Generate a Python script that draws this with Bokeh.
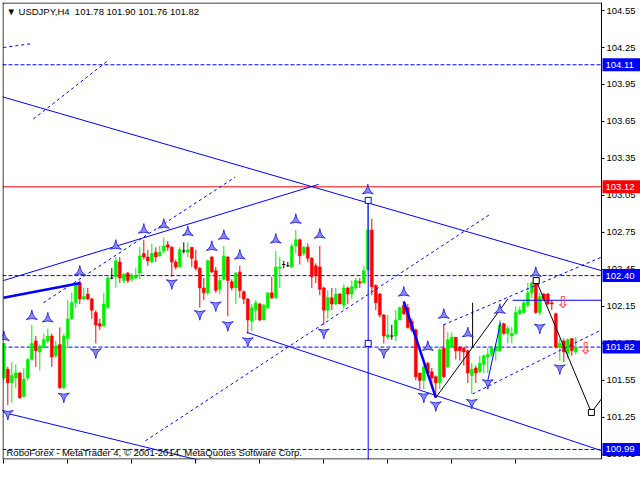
import math
from bokeh.plotting import figure
from bokeh.models import Range1d, FixedTicker, Label
from bokeh.embed import file_html
from bokeh.resources import INLINE
from bokeh.core.properties import value

# ---------------- data (USDJPY H4, bar index 0 = 11 Apr 2014) ----------------
opens = [101.57,101.64,101.53,101.57,101.61,101.42,101.57,101.72,101.87,101.78,
         101.82,101.87,101.91,101.75,101.84,101.49,101.89,102.05,102.18,102.34,
         102.21,102.25,102.21,102.10,102.01,101.99,102.14,102.38,102.39,102.51,
         102.36,102.42,102.37,102.38,102.42,102.58,102.55,102.51,102.59,102.56,
         102.60,102.65,102.63,102.51,102.47,102.60,102.59,102.63,102.52,102.46,
         102.30,102.26,102.55,102.44,102.29,102.37,102.55,102.35,102.30,102.43,
         102.27,102.21,102.03,102.12,102.17,102.04,102.14,102.26,102.22,102.46,
         102.49,102.48,102.47,102.64,102.69,102.58,102.63,102.54,102.48,102.47,
         102.30,102.12,102.22,102.17,102.25,102.16,102.30,102.25,102.30,102.35,
         102.34,102.45,102.77,102.32,102.25,102.08,101.90,101.91,101.91,102.04,
         102.16,102.14,102.03,101.96,101.61,101.55,101.69,101.62,101.58,101.53,
         101.81,101.66,101.82,101.90,101.82,101.81,101.79,101.59,101.65,101.62,
         101.68,101.74,101.76,101.79,101.79,102.01,101.93,101.91,101.93,102.09,
         102.10,102.16,102.26,102.34,102.10,102.25,102.25,102.18,102.09,101.82,
         101.87,101.77,101.89,101.78]
highs = [101.85,101.66,101.70,101.68,101.62,101.65,101.73,102.00,101.91,101.84,
         101.93,101.97,101.93,101.87,101.98,101.93,102.20,102.26,102.34,102.36,
         102.30,102.30,102.22,102.12,102.05,102.26,102.40,102.46,102.55,102.55,
         102.42,102.43,102.42,102.46,102.63,102.69,102.61,102.66,102.63,102.64,
         102.71,102.68,102.64,102.53,102.63,102.67,102.67,102.63,102.61,102.47,
         102.38,102.53,102.56,102.47,102.39,102.64,102.56,102.37,102.43,102.48,
         102.28,102.22,102.17,102.20,102.18,102.17,102.26,102.39,102.60,102.55,
         102.52,102.51,102.66,102.77,102.70,102.64,102.66,102.55,102.50,102.64,
         102.31,102.28,102.30,102.30,102.26,102.33,102.31,102.36,102.38,102.38,
         102.48,103.01,102.86,102.33,102.26,102.09,102.08,102.00,102.12,102.15,
         102.19,102.17,102.05,101.97,101.61,101.68,101.70,101.65,101.59,101.82,
         102.00,101.94,101.94,101.90,101.83,101.82,101.80,101.69,101.67,101.75,
         101.76,101.81,101.83,101.85,102.04,102.02,101.99,101.98,102.15,102.15,
         102.20,102.34,102.35,102.37,102.26,102.26,102.26,102.20,102.10,101.89,
         101.89,101.89,101.89,101.90]
lows = [101.55,101.35,101.37,101.49,101.40,101.41,101.55,101.71,101.66,101.63,
        101.81,101.85,101.66,101.73,101.48,101.48,101.81,102.04,102.14,102.17,
        102.20,102.20,102.05,101.85,101.96,101.99,102.13,102.37,102.30,102.34,
        102.34,102.34,102.35,102.37,102.37,102.53,102.48,102.50,102.51,102.55,
        102.58,102.60,102.39,102.45,102.47,102.58,102.55,102.47,102.44,102.14,
        102.20,102.24,102.42,102.26,102.25,102.36,102.07,102.28,102.17,102.22,
        102.17,101.93,101.95,102.04,102.03,102.04,102.13,102.21,102.21,102.30,
        102.46,102.47,102.46,102.58,102.49,102.56,102.51,102.30,102.34,102.24,
        102.00,102.05,102.12,102.16,102.17,102.13,102.17,102.21,102.28,102.30,
        102.34,102.44,102.24,102.12,102.06,101.85,101.88,101.88,101.87,102.04,
        102.08,101.97,101.94,101.55,101.48,101.48,101.60,101.49,101.41,101.48,
        101.57,101.65,101.81,101.72,101.71,101.67,101.53,101.44,101.53,101.61,
        101.61,101.61,101.74,101.71,101.78,101.92,101.85,101.85,101.92,102.08,
        102.09,102.14,102.22,102.09,102.08,102.20,102.16,102.12,101.81,101.71,
        101.70,101.73,101.75,101.76]
closes = [101.85,101.53,101.59,101.61,101.41,101.56,101.72,101.85,101.79,101.83,
          101.88,101.91,101.74,101.83,101.49,101.91,102.05,102.18,102.34,102.21,
          102.23,102.21,102.12,102.00,101.99,102.17,102.38,102.38,102.52,102.38,
          102.41,102.36,102.40,102.40,102.56,102.55,102.52,102.58,102.55,102.59,
          102.64,102.63,102.51,102.47,102.61,102.60,102.61,102.54,102.46,102.30,
          102.26,102.52,102.43,102.28,102.36,102.56,102.36,102.30,102.42,102.28,
          102.21,102.04,102.14,102.18,102.04,102.16,102.26,102.22,102.47,102.47,
          102.49,102.48,102.64,102.69,102.56,102.63,102.54,102.39,102.40,102.29,
          102.12,102.22,102.17,102.25,102.17,102.30,102.25,102.31,102.36,102.34,
          102.44,102.77,102.31,102.18,102.08,101.91,101.92,101.91,102.04,102.14,
          102.09,101.98,101.96,101.58,101.55,101.66,101.61,101.57,101.53,101.80,
          101.58,101.88,101.90,101.79,101.79,101.78,101.61,101.64,101.61,101.69,
          101.75,101.76,101.81,101.81,102.00,101.93,101.97,101.93,102.10,102.12,
          102.18,102.26,102.34,102.10,102.23,102.21,102.17,102.17,101.82,101.85,
          101.78,101.88,101.79,101.82]

time_ticks = [0, 16, 32, 48, 64, 80, 96, 112, 128]
time_labels = ["11 Apr 2014", "16 Apr 00:00", "18 Apr 16:00", "23 Apr 08:00",
               "28 Apr 00:00", "30 Apr 16:00", "5 May 08:00", "8 May 00:00", "12 May 16:00"]
price_ticks = [100.95, 101.25, 101.55, 101.85, 102.15, 102.45, 102.75, 103.05,
               103.35, 103.65, 103.95, 104.25, 104.55]

# horizontal levels
blue_levels = [104.11, 102.40, 101.82, 100.99]
red_level = 103.12
short_level = [(127.2, 149.42, 102.20)]

# fractal arrows (bar index, price)
frac_up_x = [0, 7, 11, 19, 28, 35, 40, 46, 52, 55, 59, 68, 73, 79, 91, 100, 106, 110, 116, 124, 133]
frac_up_y = [101.90, 102.07, 102.05, 102.43, 102.64, 102.77, 102.81, 102.75, 102.63, 102.72,
             102.56, 102.69, 102.85, 102.73, 103.09, 102.26, 101.82, 102.08, 101.93, 102.12, 102.42]
frac_dn_x = [1, 15, 23, 42, 49, 53, 56, 61, 80, 95, 105, 108, 117, 121, 134, 139]
frac_dn_y = [101.28, 101.42, 101.78, 102.34, 102.09, 102.16, 102.00, 101.87, 101.94, 101.78,
             101.42, 101.35, 101.37, 101.53, 101.98, 101.65]

# solid blue trend lines (x0, y0, x1, y1)
trend_x0 = [-0.33, -0.08, 60.7, -0.08, 91.1, 121.0]
trend_y0 = [103.85, 102.36, 101.94, 101.29, 103.01, 101.55]
trend_x1 = [149.42, 78.7, 149.42, 49.2, 91.1, 124.2]
trend_y1 = [102.44, 103.14, 100.98, 100.90, 100.90, 102.02]
thick_x0 = [-0.08, 100.0]
thick_y0 = [102.22, 102.19]
thick_x1 = [19.2, 108.0]
thick_y1 = [102.34, 101.41]
# dashed channel lines
chan_x0 = [-0.1, 7.4, 9.9, 35.4, 109.9, 117.2]
chan_y0 = [104.25, 103.67, 102.18, 101.06, 102.00, 101.44]
chan_x1 = [6.7, 25.9, 57.9, 121.7, 149.42, 149.42]
chan_y1 = [104.28, 104.14, 103.20, 102.90, 102.55, 101.96]
# black forecast zigzag
zig_x0 = [108.0, 117.2, 133.1, 146.9]
zig_y0 = [101.41, 102.18, 102.36, 101.29]
zig_x1 = [126.0, 117.2, 146.9, 149.42]
zig_y1 = [102.21, 101.82, 101.29, 101.40]
black_sq_x = [133.1, 146.9]
black_sq_y = [102.36, 101.29]
blue_sq_x = [91.1, 91.1]
blue_sq_y = [103.01, 101.85]
red_arrow_x = [139.7, 145.4]
red_arrow_y = [102.18, 101.81]

price_boxes = [104.11, 103.12, 102.40, 101.82, 100.99]
price_box_colors = ["#0000ff", "#ff0000", "#0000ff", "#0000ff", "#0000ff"]

title_text = "\u25BC USDJPY,H4\u00a0\u00a0101.78 101.90 101.76 101.82"
footer_text = "RoboForex - MetaTrader 4, \u00a9 2001-2014, MetaQuotes Software Corp."

# ---------------- figure geometry ----------------
X0, X1, XR = -0.325, 149.425, 159.175      # chart area ends at X1, price scale to XR
Y0, Y1 = 100.9085, 104.615
PXX = 0.25            # bars per pixel
PXY = 1 / 123.3       # price per pixel
FONT = "Liberation Sans"

p = figure(width=640, height=480, x_range=Range1d(X0, XR), y_range=Range1d(Y0, Y1),
           y_axis_location=None, output_backend="svg", toolbar_location=None,
           min_border_left=2, min_border_top=2, min_border_right=0, min_border_bottom=21)
p.background_fill_color = "white"
p.border_fill_color = "white"
p.grid.visible = False
p.outline_line_color = None

xa = p.xaxis[0]
xa.ticker = FixedTicker(ticks=time_ticks)
xa.major_tick_in = 0
xa.major_tick_out = 4
xa.major_tick_line_color = "black"
xa.minor_tick_line_color = None
xa.axis_line_color = None
xa.major_label_text_alpha = 0
xa.major_label_text_font_size = "1px"
xa.major_label_standoff = 0

# horizontal levels (chart area only)
n_lv = len(blue_levels)
p.segment(x0=[X0] * n_lv, y0=blue_levels, x1=[X1] * n_lv, y1=blue_levels,
          line_color="#0000ff", line_width=1, line_dash="4 2")
p.segment(x0=[X0], y0=[red_level], x1=[X1], y1=[red_level], line_color="#ff0000", line_width=1)

# candles
idx = list(range(len(opens)))
bull_x, bull_t, bull_b = [], [], []
bear_x, bear_t, bear_b = [], [], []
doji_x, doji_y = [], []
wick_col = []
for i, o, c in zip(idx, opens, closes):
    if c > o:
        bull_x.append(i); bull_t.append(c); bull_b.append(o); wick_col.append("#00ee00")
    elif c < o:
        bear_x.append(i); bear_t.append(o); bear_b.append(c); wick_col.append("#ff0000")
    else:
        doji_x.append(i); doji_y.append(o); wick_col.append("black")
p.segment(x0=idx, y0=lows, x1=idx, y1=highs, line_color=wick_col, line_width=1)
p.vbar(x=bull_x, top=bull_t, bottom=bull_b, width=0.75, fill_color="#00ee00", line_color="#00ee00", line_width=0.5)
p.vbar(x=bear_x, top=bear_t, bottom=bear_b, width=0.75, fill_color="#ff0000", line_color="#ff0000", line_width=0.5)
p.segment(x0=[x - 0.4 for x in doji_x], y0=doji_y, x1=[x + 0.4 for x in doji_x], y1=doji_y,
          line_color="black", line_width=1)

# objects
p.segment(x0=trend_x0, y0=trend_y0, x1=trend_x1, y1=trend_y1, line_color="#0000ff", line_width=1)
p.segment(x0=thick_x0, y0=thick_y0, x1=thick_x1, y1=thick_y1, line_color="#0000ff", line_width=2.5)
p.segment(x0=[s[0] for s in short_level], y0=[s[2] for s in short_level],
          x1=[s[1] for s in short_level], y1=[s[2] for s in short_level],
          line_color="#0000ff", line_width=1)
p.segment(x0=chan_x0, y0=chan_y0, x1=chan_x1, y1=chan_y1, line_color="#0000ff",
          line_width=1, line_dash="3 3")
p.segment(x0=zig_x0, y0=zig_y0, x1=zig_x1, y1=zig_y1, line_color="black", line_width=1)
p.scatter(x=black_sq_x, y=black_sq_y, marker="square", size=6, fill_color="white",
          line_color="black", line_width=1)
p.scatter(x=blue_sq_x, y=blue_sq_y, marker="square", size=6, fill_color="white",
          line_color="#0000ff", line_width=1)

# fractals
p.scatter(x=frac_up_x, y=frac_up_y, marker="triangle_pin", size=11,
          fill_color="#8c8cff", line_color="#3030d8", line_width=1)
p.scatter(x=frac_dn_x, y=frac_dn_y, marker="triangle_pin", size=11, angle=math.pi,
          fill_color="#8c8cff", line_color="#3030d8", line_width=1)

# red sell arrows
p.text(x=red_arrow_x, y=red_arrow_y, text=["\u21E9"] * len(red_arrow_x),
       text_font=value("DejaVu Sans"), text_font_size="16px", text_color="#ff3030",
       text_align="center", text_baseline="middle")

# chart frame (left, top, bottom, right edges)
p.segment(x0=[X0 + 0.5 * PXX, X0, X0, X1], y0=[Y0, Y1 - 0.5 * PXY, Y0 + 0.5 * PXY, Y0],
          x1=[X0 + 0.5 * PXX, X1, X1, X1], y1=[Y1, Y1 - 0.5 * PXY, Y0 + 0.5 * PXY, Y1],
          line_color="black", line_width=1)

# price scale: ticks and labels
n_pt = len(price_ticks)
p.segment(x0=[X1] * n_pt, y0=price_ticks, x1=[X1 + 3 * PXX] * n_pt, y1=price_ticks,
          line_color="black", line_width=1)
p.text(x=[X1] * n_pt, y=price_ticks, text=["%.2f" % t for t in price_ticks], x_offset=5,
       text_font=value(FONT), text_font_size="9.5px", text_color="black",
       text_align="left", text_baseline="middle")

# price boxes on the scale
n_pb = len(price_boxes)
p.quad(left=[X1 + 1 * PXX] * n_pb, right=[XR] * n_pb,
       top=[v + 6.5 * PXY for v in price_boxes], bottom=[v - 6.5 * PXY for v in price_boxes],
       fill_color=price_box_colors, line_color=None)
p.text(x=[X1] * n_pb, y=price_boxes, text=["%.2f" % v for v in price_boxes], x_offset=4,
       text_font=value(FONT), text_font_size="9.5px", text_color="white",
       text_align="left", text_baseline="middle")

# time labels (left-aligned at ticks, MT4 style)
for t, lab in zip(time_ticks, time_labels):
    p.add_layout(Label(x=t, y=Y0, x_offset=1, y_offset=-12, text=lab, text_align="left",
                       text_baseline="middle", text_font=FONT, text_font_size="9.5px",
                       text_color="black"))

p.add_layout(Label(x=X0, y=Y1, x_offset=4, y_offset=-9, text=title_text, text_align="left",
                   text_baseline="middle", text_font=FONT, text_font_size="9.5px",
                   text_color="black"))
p.add_layout(Label(x=X0, y=Y0, x_offset=4, y_offset=7, text=footer_text, text_align="left",
                   text_baseline="middle", text_font=FONT, text_font_size="9.5px",
                   text_color="black"))

open("out.html", "w").write(file_html(p, INLINE))
